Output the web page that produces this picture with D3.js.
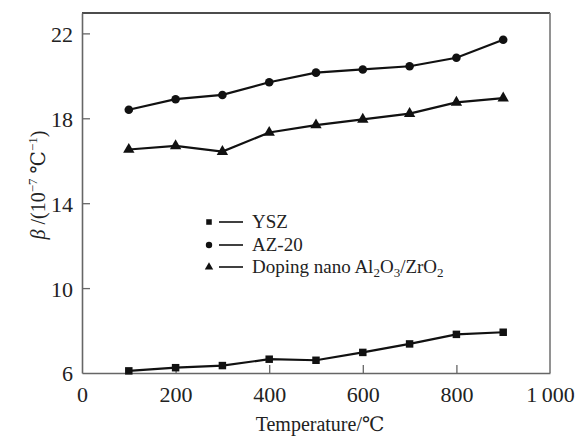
<!DOCTYPE html>
<html>
<head>
<meta charset="utf-8">
<script src="https://cdn.jsdelivr.net/npm/d3@7"></script>
<style>
  body { margin: 0; background: #fff; }
  svg text { font-family: "Liberation Serif", "Times New Roman", "DejaVu Serif", serif !important; fill: #222; }
</style>
</head>
<body>
<div id="chart"></div>
<script>
var temps = [100, 200, 300, 400, 500, 600, 700, 800, 900];
var ysz   = [6.1, 6.25, 6.35, 6.65, 6.6, 6.97, 7.37, 7.82, 7.92];
var az20  = [18.4, 18.9, 19.1, 19.7, 20.15, 20.3, 20.45, 20.85, 21.7];
var doping = [16.53, 16.7, 16.43, 17.33, 17.68, 17.95, 18.22, 18.75, 18.95];
var xTicks = [0, 200, 400, 600, 800, 1000];
var yTicks = [6, 10, 14, 18, 22];

var margin = {top: 13, left: 82, right: 26, bottom: 63},
    width  = 576 - margin.left - margin.right,
    height = 436 - margin.top - margin.bottom;

var svg = d3.select("#chart").append("svg")
    .attr("width", 576)
    .attr("height", 436);

var g = svg.append("g").attr("transform", "translate(" + margin.left + "," + margin.top + ")");

var x = d3.scaleLinear().domain([0, 1000]).range([0, width]),
    y = d3.scaleLinear().domain([6, 22.96]).range([height, 0]);

// frame: top black, right grey
g.append("line").attr("x1", 0).attr("x2", width).attr("y1", 0).attr("y2", 0)
  .attr("stroke", "#111").attr("stroke-width", 1.6);
g.append("line").attr("x1", width).attr("x2", width).attr("y1", 0).attr("y2", height)
  .attr("stroke", "#777").attr("stroke-width", 1.6);

var fmt = function(d) { return d === 1000 ? "1\u2009000" : d; };

var xAxis = g.append("g")
  .attr("transform", "translate(0," + height + ")")
  .call(d3.axisBottom(x).tickValues(xTicks).tickSizeInner(-8).tickSizeOuter(0).tickPadding(13).tickFormat(fmt));

var yAxis = g.append("g")
  .call(d3.axisLeft(y).tickValues(yTicks).tickSizeInner(-8).tickSizeOuter(0).tickPadding(9));

[xAxis, yAxis].forEach(function(a) {
  a.attr("font-family", null);
  a.select(".domain").attr("stroke", "#666").attr("stroke-width", 1.6);
  a.selectAll(".tick line").attr("stroke", "#666").attr("stroke-width", 1.3);
  a.selectAll(".tick text").attr("font-size", 22).attr("fill", "#222");
});
// hide tick marks at ends
xAxis.selectAll(".tick").filter(function(d) { return d === 0 || d === 1000; }).select("line").remove();
yAxis.selectAll(".tick").filter(function(d) { return d === 6; }).select("line").remove();
yAxis.selectAll(".tick text").attr("dy", "0.36em");

var line = d3.line()
    .x(function(d, i) { return x(temps[i]); })
    .y(function(d) { return y(d); });

var series = [
  {name: "YSZ", values: ysz, shape: d3.symbolSquare, size: 56},
  {name: "AZ-20", values: az20, shape: d3.symbolCircle, size: 58},
  {name: "Doping", values: doping, shape: d3.symbolTriangle, size: 56}
];

series.forEach(function(s) {
  g.append("path")
    .datum(s.values)
    .attr("fill", "none")
    .attr("stroke", "#111")
    .attr("stroke-width", 2.2)
    .attr("d", line);

  g.selectAll(".pt-" + s.name)
    .data(s.values)
    .enter().append("path")
    .attr("transform", function(d, i) { return "translate(" + x(temps[i]) + "," + y(d) + ")"; })
    .attr("d", d3.symbol().type(s.shape).size(s.size))
    .attr("fill", "#111");
});

// legend
var legend = svg.append("g").attr("transform", "translate(209,222)");
var legendRows = [0, 23, 45];
series.forEach(function(s, i) {
  var row = legend.append("g").attr("transform", "translate(0," + legendRows[i] + ")");
  row.append("path").attr("d", d3.symbol().type(s.shape).size(s.size * 0.55)).attr("fill", "#111");
  row.append("line").attr("x1", 10).attr("x2", 34).attr("y1", 0).attr("y2", 0)
    .attr("stroke", "#111").attr("stroke-width", 1.6);
});
var lt = legend.append("g").attr("font-size", 19).attr("fill", "#222");
lt.append("text").attr("x", 43).attr("y", 6).text("YSZ");
lt.append("text").attr("x", 43).attr("y", 29).text("AZ-20");
var t3 = lt.append("text").attr("x", 43).attr("y", 51);
t3.append("tspan").text("Doping nano Al");
t3.append("tspan").attr("font-size", 13).attr("dy", 4).text("2");
t3.append("tspan").attr("dy", -4).text("O");
t3.append("tspan").attr("font-size", 13).attr("dy", 4).text("3");
t3.append("tspan").attr("dy", -4).text("/ZrO");
t3.append("tspan").attr("font-size", 13).attr("dy", 4).text("2");

// axis titles
svg.append("text")
  .attr("x", 320).attr("y", 431)
  .attr("text-anchor", "middle")
  .attr("font-size", 20)
  .text("Temperature/\u2103");

var yl = svg.append("text")
  .attr("transform", "translate(45,185) rotate(-90)")
  .attr("text-anchor", "middle")
  .attr("font-size", 20);
yl.append("tspan").attr("font-style", "italic").text("\u03b2");
yl.append("tspan").text(" /(10");
yl.append("tspan").attr("font-size", 13).attr("dy", -8).text("\u22127");
yl.append("tspan").attr("dy", 8).text(" \u2103");
yl.append("tspan").attr("font-size", 13).attr("dy", -8).text("\u22121");
yl.append("tspan").attr("dy", 8).text(")");
</script>
</body>
</html>
